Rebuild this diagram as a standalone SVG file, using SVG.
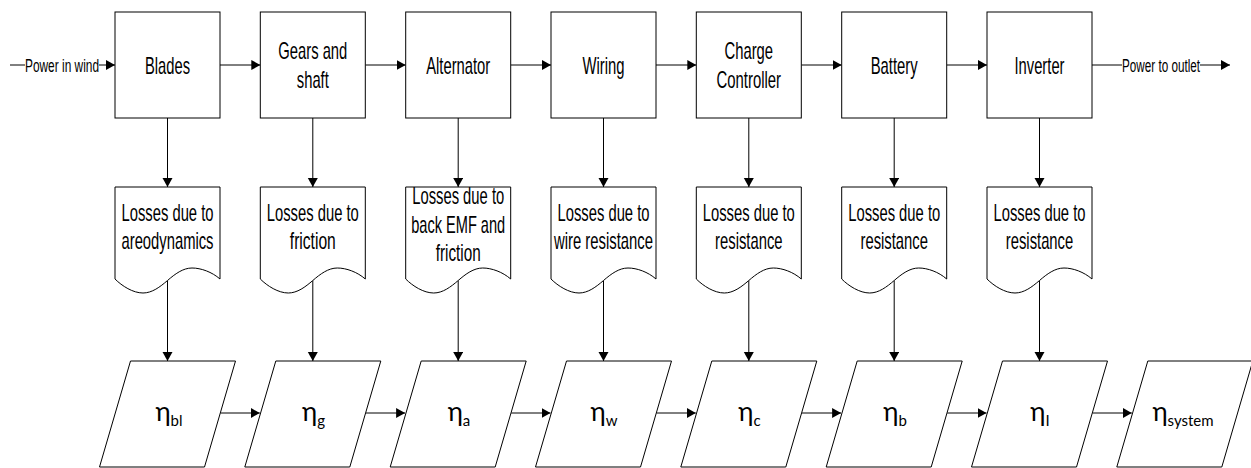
<svg xmlns="http://www.w3.org/2000/svg" xmlns:xlink="http://www.w3.org/1999/xlink" width="1251" height="468" viewBox="0 0 1251 468">
<style>
.box{fill:#fff;stroke:#000;stroke-width:1}
.doc{fill:#fff;stroke:#000;stroke-width:1}
.par{fill:#fff;stroke:#000;stroke-width:1}
.ln{fill:none;stroke:#000;stroke-width:1}
.arr{fill:none;stroke:#000;stroke-width:1;marker-end:url(#ah)}
.t{font-family:'Liberation Sans Narrow','Liberation Sans',Arial,sans-serif;font-size:24px;fill:#000;text-anchor:middle}
.s{font-family:'Liberation Sans Narrow','Liberation Sans',Arial,sans-serif;font-size:18px;fill:#000;text-anchor:middle}
.e{font-family:Lato,'Noto Sans','Open Sans',sans-serif;font-size:26px;fill:#000;text-anchor:middle}
.sub{font-size:15px}
</style>
<defs>
<marker id="ah" markerUnits="userSpaceOnUse" markerWidth="10" markerHeight="11" refX="9" refY="5" orient="auto">
<path d="M0,0 L9,5 L0,10 Z" fill="#000"/>
</marker>
<path id="docShape" d="M0,279 V187 H105 V279 C97,272 86,268 77,268 C68,268 60,274 52.5,280.5 C45,287 37,293 28,293 C18,293 7,286 0,279 Z"/>
</defs>

<g id="connectors">
<line class="ln" x1="10" y1="65" x2="25" y2="65"/>
<line class="arr" x1="99" y1="65" x2="115" y2="65"/>
<text class="s" x="62" y="71.5" textLength="74" lengthAdjust="spacingAndGlyphs">Power in wind</text>
<line class="ln" x1="1092" y1="65" x2="1122" y2="65"/>
<line class="arr" x1="1200" y1="65" x2="1230" y2="65"/>
<text class="s" x="1161" y="71.5" textLength="78" lengthAdjust="spacingAndGlyphs">Power to outlet</text>

<line class="arr" x1="220" y1="65" x2="260.3" y2="65"/>
<line class="arr" x1="365.3" y1="65" x2="405.7" y2="65"/>
<line class="arr" x1="510.7" y1="65" x2="551" y2="65"/>
<line class="arr" x1="656" y1="65" x2="696.3" y2="65"/>
<line class="arr" x1="801.3" y1="65" x2="841.7" y2="65"/>
<line class="arr" x1="946.7" y1="65" x2="987" y2="65"/>

<line class="arr" x1="167.5" y1="118" x2="167.5" y2="187"/>
<line class="arr" x1="312.8" y1="118" x2="312.8" y2="187"/>
<line class="arr" x1="458.2" y1="118" x2="458.2" y2="187"/>
<line class="arr" x1="603.5" y1="118" x2="603.5" y2="187"/>
<line class="arr" x1="748.8" y1="118" x2="748.8" y2="187"/>
<line class="arr" x1="894.2" y1="118" x2="894.2" y2="187"/>
<line class="arr" x1="1039.5" y1="118" x2="1039.5" y2="187"/>

<line class="arr" x1="167.5" y1="280.5" x2="167.5" y2="361"/>
<line class="arr" x1="312.8" y1="280.5" x2="312.8" y2="361"/>
<line class="arr" x1="458.2" y1="280.5" x2="458.2" y2="361"/>
<line class="arr" x1="603.5" y1="280.5" x2="603.5" y2="361"/>
<line class="arr" x1="748.8" y1="280.5" x2="748.8" y2="361"/>
<line class="arr" x1="894.2" y1="280.5" x2="894.2" y2="361"/>
<line class="arr" x1="1039.5" y1="280.5" x2="1039.5" y2="361"/>

<line class="arr" x1="220.5" y1="413" x2="259.8" y2="413"/>
<line class="arr" x1="365.8" y1="413" x2="405.1" y2="413"/>
<line class="arr" x1="511.2" y1="413" x2="550.5" y2="413"/>
<line class="arr" x1="656.5" y1="413" x2="695.8" y2="413"/>
<line class="arr" x1="801.8" y1="413" x2="841.1" y2="413"/>
<line class="arr" x1="947.2" y1="413" x2="986.5" y2="413"/>
<line class="arr" x1="1092.5" y1="413" x2="1131.8" y2="413"/>
</g>

<g id="blades"><rect class="box" x="115" y="12" width="105" height="106"/><text class="t" x="167.5" y="73.5" textLength="45" lengthAdjust="spacingAndGlyphs">Blades</text></g>
<g id="gears"><rect class="box" x="260.3" y="12" width="105" height="106"/><text class="t" x="312.8" y="59" textLength="69" lengthAdjust="spacingAndGlyphs">Gears and</text><text class="t" x="312.8" y="87.5" textLength="32" lengthAdjust="spacingAndGlyphs">shaft</text></g>
<g id="alternator"><rect class="box" x="405.7" y="12" width="105" height="106"/><text class="t" x="458.2" y="73.5" textLength="64" lengthAdjust="spacingAndGlyphs">Alternator</text></g>
<g id="wiring"><rect class="box" x="551" y="12" width="105" height="106"/><text class="t" x="603.5" y="73.5" textLength="42" lengthAdjust="spacingAndGlyphs">Wiring</text></g>
<g id="charge"><rect class="box" x="696.3" y="12" width="105" height="106"/><text class="t" x="748.8" y="59" textLength="48.5" lengthAdjust="spacingAndGlyphs">Charge</text><text class="t" x="748.8" y="87.5" textLength="64.5" lengthAdjust="spacingAndGlyphs">Controller</text></g>
<g id="battery"><rect class="box" x="841.7" y="12" width="105" height="106"/><text class="t" x="894.2" y="73.5" textLength="47" lengthAdjust="spacingAndGlyphs">Battery</text></g>
<g id="inverter"><rect class="box" x="987" y="12" width="105" height="106"/><text class="t" x="1039.5" y="73.5" textLength="50" lengthAdjust="spacingAndGlyphs">Inverter</text></g>

<g id="loss-blades" transform="translate(115,0)"><use class="doc" xlink:href="#docShape" href="#docShape"/><text class="t" x="52.5" y="220.5" textLength="92" lengthAdjust="spacingAndGlyphs">Losses due to</text><text class="t" x="52.5" y="249" textLength="92" lengthAdjust="spacingAndGlyphs">areodynamics</text></g>
<g id="loss-gears" transform="translate(260.3,0)"><use class="doc" xlink:href="#docShape" href="#docShape"/><text class="t" x="52.5" y="220.5" textLength="92" lengthAdjust="spacingAndGlyphs">Losses due to</text><text class="t" x="52.5" y="249" textLength="46" lengthAdjust="spacingAndGlyphs">friction</text></g>
<g id="loss-alternator" transform="translate(405.7,0)"><use class="doc" xlink:href="#docShape" href="#docShape"/><text class="t" x="52.5" y="204" textLength="92" lengthAdjust="spacingAndGlyphs">Losses due to</text><text class="t" x="52.5" y="232.5" textLength="94" lengthAdjust="spacingAndGlyphs">back EMF and</text><text class="t" x="52.5" y="261" textLength="45" lengthAdjust="spacingAndGlyphs">friction</text></g>
<g id="loss-wiring" transform="translate(551,0)"><use class="doc" xlink:href="#docShape" href="#docShape"/><text class="t" x="52.5" y="220.5" textLength="92" lengthAdjust="spacingAndGlyphs">Losses due to</text><text class="t" x="52.5" y="249" textLength="99" lengthAdjust="spacingAndGlyphs">wire resistance</text></g>
<g id="loss-charge" transform="translate(696.3,0)"><use class="doc" xlink:href="#docShape" href="#docShape"/><text class="t" x="52.5" y="220.5" textLength="92" lengthAdjust="spacingAndGlyphs">Losses due to</text><text class="t" x="52.5" y="249" textLength="67.4" lengthAdjust="spacingAndGlyphs">resistance</text></g>
<g id="loss-battery" transform="translate(841.7,0)"><use class="doc" xlink:href="#docShape" href="#docShape"/><text class="t" x="52.5" y="220.5" textLength="92" lengthAdjust="spacingAndGlyphs">Losses due to</text><text class="t" x="52.5" y="249" textLength="67.4" lengthAdjust="spacingAndGlyphs">resistance</text></g>
<g id="loss-inverter" transform="translate(987,0)"><use class="doc" xlink:href="#docShape" href="#docShape"/><text class="t" x="52.5" y="220.5" textLength="92" lengthAdjust="spacingAndGlyphs">Losses due to</text><text class="t" x="52.5" y="249" textLength="67.4" lengthAdjust="spacingAndGlyphs">resistance</text></g>

<g id="eta-bl"><polygon class="par" points="130.5,361 235.5,361 204.5,467 99.5,467"/><text class="e" x="169" y="421">η<tspan class="sub" dy="5">bl</tspan></text></g>
<g id="eta-g"><polygon class="par" points="275.8,361 380.8,361 349.8,467 244.8,467"/><text class="e" x="313.5" y="421">η<tspan class="sub" dy="5">g</tspan></text></g>
<g id="eta-a"><polygon class="par" points="421.2,361 526.2,361 495.2,467 390.2,467"/><text class="e" x="459" y="421">η<tspan class="sub" dy="5">a</tspan></text></g>
<g id="eta-w"><polygon class="par" points="566.5,361 671.5,361 640.5,467 535.5,467"/><text class="e" x="604" y="421">η<tspan class="sub" dy="5">w</tspan></text></g>
<g id="eta-c"><polygon class="par" points="711.8,361 816.8,361 785.8,467 680.8,467"/><text class="e" x="749.5" y="421">η<tspan class="sub" dy="5">c</tspan></text></g>
<g id="eta-b"><polygon class="par" points="857.2,361 962.2,361 931.2,467 826.2,467"/><text class="e" x="895" y="421">η<tspan class="sub" dy="5">b</tspan></text></g>
<g id="eta-i"><polygon class="par" points="1002.5,361 1107.5,361 1076.5,467 971.5,467"/><text class="e" x="1040" y="421">η<tspan class="sub" dy="5">I</tspan></text></g>
<g id="eta-system"><polygon class="par" points="1147.8,361 1252.8,361 1221.8,467 1116.8,467"/><text class="e" x="1183" y="421">η<tspan class="sub" dy="5">system</tspan></text></g>
</svg>
